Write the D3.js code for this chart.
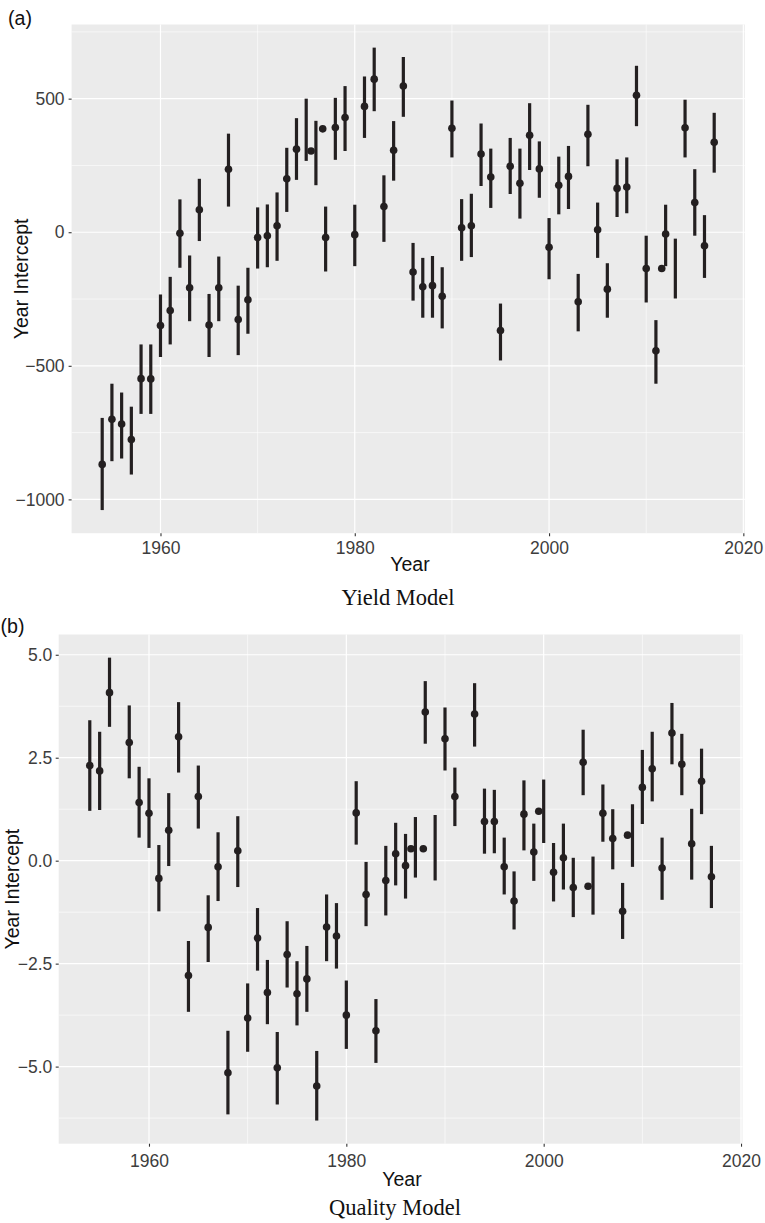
<!DOCTYPE html>
<html>
<head>
<meta charset="utf-8">
<script src="https://cdn.jsdelivr.net/npm/d3@7"></script>
<style>
  html, body { margin: 0; padding: 0; background: #ffffff; }
  svg { display: block; }
</style>
</head>
<body>
<svg id="chart" width="765" height="1223"></svg>
<script>
// ---------- Yield model: year intercepts with 95% intervals ----------
const yieldYears = [1954,1955,1956,1957,1958,1959,1960,1961,1962,1963,1964,1965,1966,1967,1968,1969,
  1970,1971,1972,1973,1974,1975,1976,1977,1978,1979,1980,1981,1982,1983,1984,1985,1986,1987,1988,1989,
  1990,1991,1992,1993,1994,1995,1996,1997,1998,1999,2000,2001,2002,2003,2004,2005,2006,2007,2008,2009,
  2010,2011,2012,2013,2014,2015,2016,2017];
const yieldLower = [-1040,-857,-847,-907,-680,-680,-467,-420,-133,-333,-33,-467,-333,96,-460,-380,
  -136,-131,-107,76,196,267,176,-147,271,304,-127,353,453,-36,193,432,-256,-320,-320,-360,
  280,-107,-93,173,91,-480,143,51,233,129,-176,67,87,-371,247,-96,-320,57,71,397,
  -263,-567,-127,-248,280,-13,-171,223];
const yieldUpper = [-695,-567,-600,-653,-420,-420,-233,-167,123,-87,200,-231,-91,369,-200,-133,
  93,104,149,316,427,500,417,96,503,547,103,583,691,213,416,656,-40,-96,-89,-131,
  493,124,144,407,313,-267,353,313,483,340,53,283,323,-156,477,111,-116,273,280,623,
  -13,-329,103,-24,496,236,64,447];
const yieldPointYears = [1954,1955,1956,1957,1958,1959,1960,1961,1962,1963,1964,1965,1966,1967,1968,1969,
  1970,1971,1972,1973,1974,1975.5,1976.7,1977,1978,1979,1980,1981,1982,1983,1984,1985,1986,1987,1988,1989,
  1990,1991,1992,1993,1994,1995,1996,1997,1998,1999,2000,2001,2002,2003,2004,2005,2006,2007,2008,2009,
  2010,2011,2012,2011.6,2014,2015,2016,2017];
const yieldPointValues = [-869,-700,-718,-776,-548,-549,-349,-293,-4,-208,84,-347,-208,236,-327,-253,
  -20,-13,24,200,311,304,387,-20,392,429,-9,471,573,96,307,547,-149,-204,-200,-240,
  389,17,24,293,207,-368,247,183,363,237,-56,176,209,-260,367,9,-213,164,169,513,
  -136,-444,-7,-136,391,111,-51,337];
const yieldTicksX = [1960,1980,2000,2020];
const yieldTicksY = [-1000,-500,0,500];

// ---------- Quality model: year intercepts with 95% intervals ----------
const qualityYears = [1954,1955,1956,1958,1959,1960,1961,1962,1963,1964,1965,1966,1967,1968,1969,
  1970,1971,1972,1973,1974,1975,1976,1977,1978,1979,1980,1981,1982,1983,1984,1985,1986,1987,1988,1989,
  1990,1991,1993,1994,1995,1996,1997,1998,1999,2000,2001,2002,2003,2004,2005,2006,2007,2008,2009,
  2010,2011,2012,2013,2014,2015,2016,2017];
const qualityLower = [1.21,1.23,3.25,2.00,0.56,0.31,-1.23,-0.13,2.14,-3.67,0.78,-2.46,-0.98,-6.16,-0.64,
  -4.64,-2.67,-3.97,-5.92,-3.08,-4.00,-3.67,-6.31,-2.44,-2.62,-4.57,0.39,-1.59,-4.91,-1.33,-0.60,-0.92,-0.41,2.84,-0.48,
  2.19,0.84,2.77,0.17,0.18,-0.82,-1.67,0.25,-0.49,0.43,-0.99,-0.70,-1.37,1.59,-1.31,0.46,-0.21,-1.90,-0.15,
  0.89,1.44,-0.95,2.34,1.59,-0.46,1.13,-1.15];
const qualityUpper = [3.41,3.13,4.93,3.77,2.28,2.00,0.38,1.64,3.85,-1.95,2.31,-0.84,0.69,-4.13,1.08,
  -2.98,-1.15,-2.41,-4.16,-1.47,-2.44,-2.07,-4.62,-0.82,-1.03,-2.91,1.93,-0.03,-3.36,0.36,0.92,0.65,1.06,4.36,1.11,
  3.72,2.26,4.31,1.75,1.72,0.56,-0.26,1.95,0.90,1.97,0.43,0.90,0.07,3.18,0.10,1.85,1.25,-0.54,1.37,
  2.69,3.13,0.56,3.83,3.08,1.26,2.72,0.36];
const qualityPointYears = [1954,1955,1956,1958,1959,1960,1961,1962,1963,1964,1965,1966,1967,1968,1969,
  1970,1971,1972,1973,1974,1975,1976,1977,1978,1979,1980,1981,1982,1983,1984,1985,1986,1986.55,1987.8,1988,
  1990,1991,1993,1994,1995,1996,1997,1998,1999,1999.5,2001,2002,2003,2004,2004.5,2006,2007,2008,2008.5,
  2010,2011,2012,2013,2014,2015,2016,2017];
const qualityPointValues = [2.31,2.18,4.08,2.87,1.41,1.15,-0.43,0.74,3.01,-2.79,1.56,-1.62,-0.15,-5.15,0.24,
  -3.82,-1.88,-3.20,-5.03,-2.28,-3.23,-2.87,-5.47,-1.61,-1.83,-3.75,1.16,-0.82,-4.13,-0.48,0.17,-0.12,0.29,0.29,3.61,
  2.96,1.56,3.56,0.95,0.95,-0.15,-0.98,1.13,0.21,1.20,-0.28,0.07,-0.65,2.39,-0.62,1.15,0.54,-1.23,0.62,
  1.78,2.23,-0.18,3.10,2.34,0.41,1.93,-0.39];
const qualityTicksX = [1960,1980,2000,2020];
const qualityTicksY = [-5.0,-2.5,0.0,2.5,5.0];

// ---------- drawing ----------
const svg = d3.select("#chart");
const INK = "#231f20";
const SANS = "'Liberation Sans', Arial, Helvetica, sans-serif";
const SERIF = "'Liberation Serif', 'Times New Roman', serif";

// ggplot-style 5% expansion of the data range
function expanded(lo, hi) {
  const pad = (hi - lo) * 0.05;
  return [lo - pad, hi + pad];
}
// minor grid positions halfway between major breaks (and beyond the ends)
function minorBreaks(major, domain) {
  const step = major[1] - major[0];
  const out = [];
  for (let i = -1; i < major.length; i++) {
    const v = (i < 0 ? major[0] - step : major[i]) + step / 2;
    if (v > domain[0] && v < domain[1] && !major.includes(v)) out.push(v);
  }
  return out;
}

function drawPanel(cfg) {
  const xDomain = expanded(d3.min(cfg.years), d3.max(cfg.years));
  const yDomain = expanded(d3.min(cfg.lower), d3.max(cfg.upper));
  const x = d3.scaleLinear().domain(xDomain).range([cfg.left, cfg.right]);
  const y = d3.scaleLinear().domain(yDomain).range([cfg.bottom, cfg.top]);
  const g = svg.append("g");

  // panel background
  g.append("rect")
    .attr("x", cfg.left).attr("y", cfg.top)
    .attr("width", cfg.right - cfg.left).attr("height", cfg.bottom - cfg.top)
    .attr("fill", "#ebebeb");

  // grid lines
  const grid = g.append("g").attr("stroke", "#ffffff").attr("fill", "none");
  minorBreaks(cfg.ticksX, xDomain).forEach(v => grid.append("line")
    .attr("x1", x(v)).attr("x2", x(v)).attr("y1", cfg.top).attr("y2", cfg.bottom)
    .attr("stroke-width", 0.6));
  minorBreaks(cfg.ticksY, yDomain).forEach(v => grid.append("line")
    .attr("y1", y(v)).attr("y2", y(v)).attr("x1", cfg.left).attr("x2", cfg.right)
    .attr("stroke-width", 0.6));
  cfg.ticksX.forEach(v => grid.append("line")
    .attr("x1", x(v)).attr("x2", x(v)).attr("y1", cfg.top).attr("y2", cfg.bottom)
    .attr("stroke-width", 1.2));
  cfg.ticksY.forEach(v => grid.append("line")
    .attr("y1", y(v)).attr("y2", y(v)).attr("x1", cfg.left).attr("x2", cfg.right)
    .attr("stroke-width", 1.2));

  // interval bars
  g.append("g").selectAll("line")
    .data(cfg.years.map((yr, i) => ({ yr, lo: cfg.lower[i], hi: cfg.upper[i] })))
    .join("line")
    .attr("x1", d => x(d.yr)).attr("x2", d => x(d.yr))
    .attr("y1", d => y(d.lo)).attr("y2", d => y(d.hi))
    .attr("stroke", INK).attr("stroke-width", 3.2);

  // point estimates
  g.append("g").selectAll("circle")
    .data(cfg.pointYears.map((yr, i) => ({ yr, v: cfg.pointValues[i] })))
    .join("circle")
    .attr("cx", d => x(d.yr)).attr("cy", d => y(d.v))
    .attr("r", 3.8).attr("fill", INK);

  // axes
  const xAxis = g.append("g")
    .attr("transform", `translate(0,${cfg.bottom})`)
    .call(d3.axisBottom(x).tickValues(cfg.ticksX).tickFormat(d3.format("d"))
      .tickSize(3).tickPadding(cfg.xPad));
  const yAxis = g.append("g")
    .attr("transform", `translate(${cfg.left},0)`)
    .call(d3.axisLeft(y).tickValues(cfg.ticksY).tickFormat(d3.format(cfg.yFormat))
      .tickSize(3).tickPadding(cfg.yPad));
  [xAxis, yAxis].forEach(a => {
    a.select(".domain").remove();
    a.selectAll(".tick line").attr("stroke", "#333333").attr("stroke-width", 1.1);
    a.selectAll(".tick text").attr("fill", "#3d3d3d")
      .style("font-family", SANS).style("font-size", "17.5px");
  });

  // axis titles
  g.append("text")
    .attr("x", cfg.xTitleX).attr("y", cfg.xTitleY)
    .attr("text-anchor", "middle")
    .style("font-family", SANS).style("font-size", "19.5px").attr("fill", "#111")
    .text("Year");
  g.append("text")
    .attr("transform", `translate(${cfg.yTitleX},${(cfg.top + cfg.bottom) / 2}) rotate(-90)`)
    .attr("text-anchor", "middle")
    .style("font-family", SANS).style("font-size", "19.5px").attr("fill", "#111")
    .text("Year Intercept");

  // panel tag and caption
  g.append("text")
    .attr("x", cfg.tagX).attr("y", cfg.tagY)
    .style("font-family", SANS).style("font-size", "19.6px").attr("fill", "#111")
    .text(cfg.tag);
  g.append("text")
    .attr("x", cfg.captionX).attr("y", cfg.captionY)
    .attr("text-anchor", "middle")
    .style("font-family", SERIF).style("font-size", "22.5px").attr("fill", "#111")
    .text(cfg.caption);
}

drawPanel({
  years: yieldYears, lower: yieldLower, upper: yieldUpper,
  pointYears: yieldPointYears, pointValues: yieldPointValues,
  ticksX: yieldTicksX, ticksY: yieldTicksY, yFormat: "d",
  left: 71.6, right: 744.8, top: 24.5, bottom: 533.2,
  xPad: 5.4, yPad: 4,
  xTitleX: 410, xTitleY: 571,
  yTitleX: 27.5,
  tag: "(a)", tagX: 8, tagY: 25,
  caption: "Yield Model", captionX: 398, captionY: 605
});

drawPanel({
  years: qualityYears, lower: qualityLower, upper: qualityUpper,
  pointYears: qualityPointYears, pointValues: qualityPointValues,
  ticksX: qualityTicksX, ticksY: qualityTicksY, yFormat: ".1f",
  left: 58.7, right: 742.5, top: 634.5, bottom: 1143.7,
  xPad: 8.3, yPad: 3.4,
  xTitleX: 402, xTitleY: 1186,
  yTitleX: 19,
  tag: "(b)", tagX: 0.5, tagY: 632.5,
  caption: "Quality Model", captionX: 395, captionY: 1215
});
</script>
</body>
</html>
